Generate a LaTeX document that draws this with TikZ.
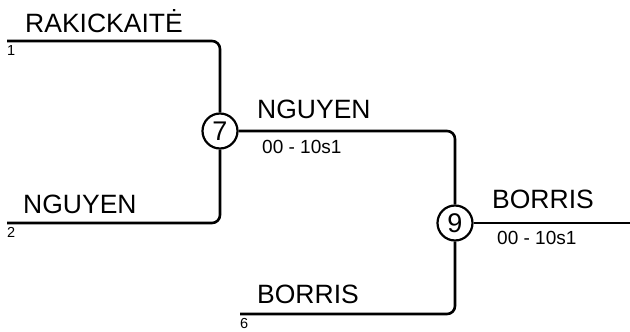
\documentclass[tikz,border=0pt]{standalone}
\usepackage{fontspec}
\setmainfont{Liberation Sans}
\begin{document}
\begin{tikzpicture}[x=1pt,y=-1pt,
  wire/.style={line width=2.6pt,rounded corners=8pt},
  match/.style={circle,draw,line width=2.2pt,fill=white,minimum size=35pt,inner sep=0pt,font=\fontsize{27}{30}\selectfont},
  pname/.style={anchor=base west,inner sep=0pt,font=\fontsize{26.5}{30}\selectfont},
  score/.style={anchor=base west,inner sep=0pt,font=\fontsize{19}{22}\selectfont},
  seed/.style={anchor=base west,inner sep=0pt,font=\fontsize{14.5}{16}\selectfont}]
\useasboundingbox (0,0) rectangle (630,332);
\node[match] (c7) at (220,131) {7};
\node[match] (c9) at (455,223) {9};
\coordinate (s1) at (7,41);
\coordinate (s2) at (7,223);
\coordinate (s6) at (240,314);
\coordinate (fin) at (630,223);
\draw[wire] (s1) -| (c7);
\draw[wire] (s2) -| (c7);
\draw[wire] (c7) -| (c9);
\draw[wire] (s6) -| (c9);
\draw[wire] (c9) -- (fin);
\node[pname] (n1) at (25,32) {RAKICKAITĖ};
\node[pname] (n2) at (23,213) {NGUYEN};
\node[pname] (n7) at (257,118) {NGUYEN};
\node[pname] (n6) at (257,303) {BORRIS};
\node[pname] (n9) at (492,208) {BORRIS};
\node[score] (r7) at (262,153) {00 - 10s1};
\node[score] (r9) at (497,244) {00 - 10s1};
\node[seed] (d1) at (7,55) {1};
\node[seed] (d2) at (7,237) {2};
\node[seed] (d6) at (240,328) {6};
\end{tikzpicture}
\end{document}
